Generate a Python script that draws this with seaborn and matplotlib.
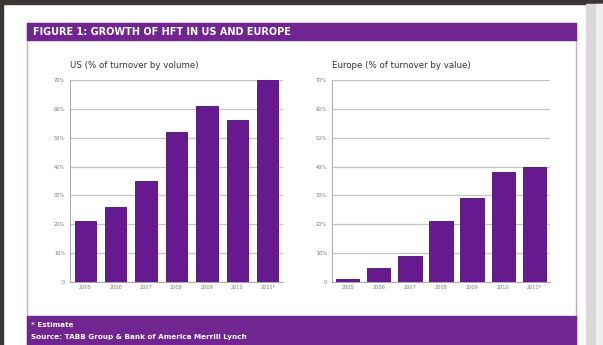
import matplotlib
matplotlib.use("Agg")
import matplotlib.pyplot as plt
import seaborn as sns
import pandas as pd
from matplotlib.patches import Rectangle

years = ["2005", "2006", "2007", "2008", "2009", "2010", "2011*"]
us_values = [21, 26, 35, 52, 61, 56, 70]
eu_values = [1, 5, 9, 21, 29, 38, 40]
y_ticks = [0, 10, 20, 30, 40, 50, 60, 70]
y_tick_labels = ["0", "10%", "20%", "30%", "40%", "50%", "60%", "70%"]

title = "FIGURE 1: GROWTH OF HFT IN US AND EUROPE"
us_title = "US (% of turnover by volume)"
eu_title = "Europe (% of turnover by value)"
footnote1 = "* Estimate"
footnote2 = "Source: TABB Group & Bank of America Merrill Lynch"

sns.set_theme(style="white")
plt.rcParams['font.family'] = ['DejaVu Sans']

W, H = 603, 345
fig = plt.figure(figsize=(W / 100, H / 100), dpi=100)
fig.patch.set_facecolor("white")

PURPLE = "#67198f"
BAND = "#702591"


def px_rect(x0, y0, x1, y1, **kw):
    fig.patches.append(Rectangle((x0 / W, 1 - y1 / H), (x1 - x0) / W, (y1 - y0) / H,
                                 transform=fig.transFigure, figure=fig, **kw))


# outer frame
px_rect(0, 0, W, 4, color="#3b3632", zorder=0)
px_rect(0, 0, 3, H, color="#3b3632", zorder=0)
px_rect(586, 4, W, H, color="#d9d7d9", zorder=0)
px_rect(596, 4, W, H, color="#eeeeee", zorder=0)
# inner panel border
px_rect(27, 23, 576, H + 2, facecolor="white", edgecolor="#c9a8d8", lw=1.0, zorder=0)
# header and footer bands
px_rect(27, 23, 576, 40, color=BAND, zorder=1)
px_rect(27, 316, 576, H + 2, color=BAND, zorder=1)

fig.text(33 / W, 1 - 32 / H, title, color="white", fontsize=7.0, fontweight="bold",
         va="center", ha="left", zorder=6)
fig.text(31 / W, 1 - 325 / H, footnote1, color="white", fontsize=5.2, fontweight="bold",
         va="center", ha="left", zorder=6)
fig.text(31 / W, 1 - 337 / H, footnote2, color="white", fontsize=5.2, fontweight="bold",
         va="center", ha="left", zorder=6)


def panel(x0, x1, values, sub, width):
    y0, y1 = 80, 282
    ax = fig.add_axes([x0 / W, 1 - y1 / H, (x1 - x0) / W, (y1 - y0) / H])
    ax.set_zorder(5)
    df = pd.DataFrame({"year": years, "value": values})
    sns.barplot(data=df, x="year", y="value", color=PURPLE, saturation=1, width=width,
                ax=ax, edgecolor="#4a0f6e", linewidth=0.6, zorder=3)
    ax.set_ylim(0, 70)
    ax.set_xlim(-0.5, 6.5)
    ax.set_yticks(y_ticks)
    ax.set_yticklabels(y_tick_labels)
    ax.yaxis.grid(True, color="#c4c4c4", lw=0.9, zorder=0)
    ax.set_axisbelow(True)
    ax.set_xlabel("")
    ax.set_ylabel("")
    for s in ["top", "right"]:
        ax.spines[s].set_visible(False)
    for s in ["left", "bottom"]:
        ax.spines[s].set_color("#a8a8a8")
        ax.spines[s].set_linewidth(0.7)
    ax.tick_params(axis="both", labelsize=3.6, colors="#777777", length=1.5, width=0.5, pad=2)
    ax.tick_params(axis="x", length=0)
    ax.set_facecolor("none")
    ax.text(0.0, 1.05, sub, transform=ax.transAxes, fontsize=6.2, color="#333333",
            ha="left", va="bottom")
    return ax


panel(70, 283, us_values, us_title, 0.70)
panel(332, 550, eu_values, eu_title, 0.75)

fig.savefig("out.png", dpi=100)
